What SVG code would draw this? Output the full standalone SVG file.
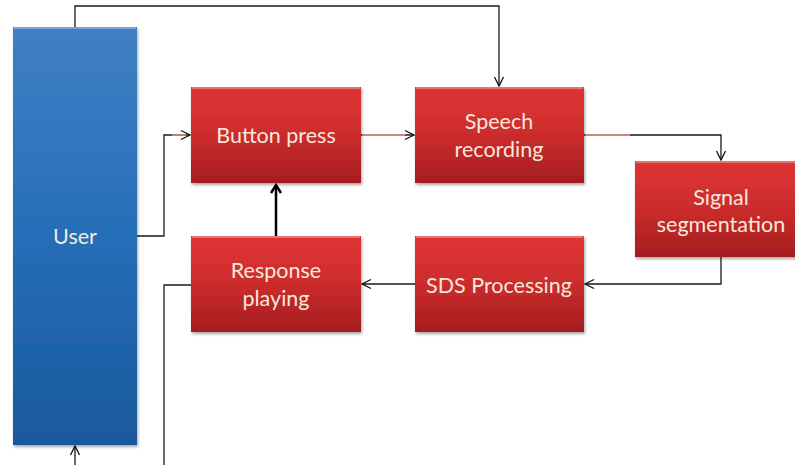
<svg xmlns="http://www.w3.org/2000/svg" width="795" height="465" viewBox="0 0 795 465">
<defs>
<linearGradient id="red" x1="0" y1="0" x2="0" y2="1">
<stop offset="0" stop-color="#e03434"/>
<stop offset="0.5" stop-color="#cc2c2c"/>
<stop offset="1" stop-color="#a41d1f"/>
</linearGradient>
<linearGradient id="blue" x1="0" y1="0" x2="0" y2="1">
<stop offset="0" stop-color="#4080c4"/>
<stop offset="0.5" stop-color="#266eb8"/>
<stop offset="1" stop-color="#19599c"/>
</linearGradient>
<filter id="sh" x="-10%" y="-10%" width="125%" height="125%">
<feDropShadow dx="1" dy="2" stdDeviation="1.5" flood-color="#000" flood-opacity="0.35"/>
</filter>
<marker id="arr" markerWidth="12" markerHeight="12" refX="10" refY="6" orient="auto" markerUnits="userSpaceOnUse">
<path d="M1,1.5 L10,6 L1,10.5" fill="none" stroke="#111" stroke-width="1.3"/>
</marker>
<marker id="arrB" markerWidth="14" markerHeight="14" refX="10" refY="7" orient="auto" markerUnits="userSpaceOnUse">
<path d="M2,2 L10,7 L2,12" fill="none" stroke="#000" stroke-width="2.5"/>
</marker>
</defs>
<style>
.box{stroke:none;filter:url(#sh)}
.hl{fill:none;stroke:#ffffff;stroke-opacity:0.3;stroke-width:2}
.t{font-family:Lato,"Open Sans","Liberation Sans",sans-serif;font-size:21.5px;fill:#f8e8dc;text-anchor:middle}
.c{fill:none;stroke:#1a1a1a;stroke-width:1.3}
.o{fill:none;stroke:#f0a080;stroke-width:1.3}
</style>
<g id="connectors">
<path class="c" d="M75,27 V6 H499 V86" marker-end="url(#arr)"/>
<path class="c" d="M137,236 H164 V135 H190" marker-end="url(#arr)"/>
<path class="o" d="M172,135 H186"/>
<path class="c" d="M361,135 H414" marker-end="url(#arr)"/>
<path class="o" d="M362,135 H405"/>
<path class="c" d="M584,135 H721 V160" marker-end="url(#arr)"/>
<path class="o" d="M585,135 H630"/>
<path class="c" d="M721,257 V284 H585" marker-end="url(#arr)"/>
<path class="c" d="M415,284 H362" marker-end="url(#arr)"/>
<path class="c" d="M191,285 H164 V465"/>
<path class="c" d="M75,465 V446" marker-end="url(#arr)"/>
<path fill="none" stroke="#000" stroke-width="2.5" d="M276,236 V185" marker-end="url(#arrB)"/>
</g>
<g id="user">
<rect class="box" x="13" y="27" width="124" height="418" fill="url(#blue)"/>
<path class="hl" d="M14,28 H136"/>
<text class="t" x="75" y="244">User</text>
</g>
<g id="button-press">
<rect class="box" x="191" y="87" width="170" height="96" fill="url(#red)"/>
<path class="hl" d="M192,88 H360"/>
<text class="t" x="276" y="143">Button press</text>
</g>
<g id="speech-recording">
<rect class="box" x="415" y="87" width="169" height="96" fill="url(#red)"/>
<path class="hl" d="M416,88 H583"/>
<text class="t" x="499" y="129">Speech</text>
<text class="t" x="499" y="157">recording</text>
</g>
<g id="signal-segmentation">
<rect class="box" x="635" y="161" width="172" height="96" fill="url(#red)"/>
<path class="hl" d="M636,162 H806"/>
<text class="t" x="721" y="205">Signal</text>
<text class="t" x="721" y="232">segmentation</text>
</g>
<g id="sds-processing">
<rect class="box" x="415" y="236" width="169" height="96" fill="url(#red)"/>
<path class="hl" d="M416,237 H583"/>
<text class="t" x="499" y="293">SDS Processing</text>
</g>
<g id="response-playing">
<rect class="box" x="191" y="236" width="170" height="96" fill="url(#red)"/>
<path class="hl" d="M192,237 H360"/>
<text class="t" x="276" y="278">Response</text>
<text class="t" x="276" y="306">playing</text>
</g>
</svg>
